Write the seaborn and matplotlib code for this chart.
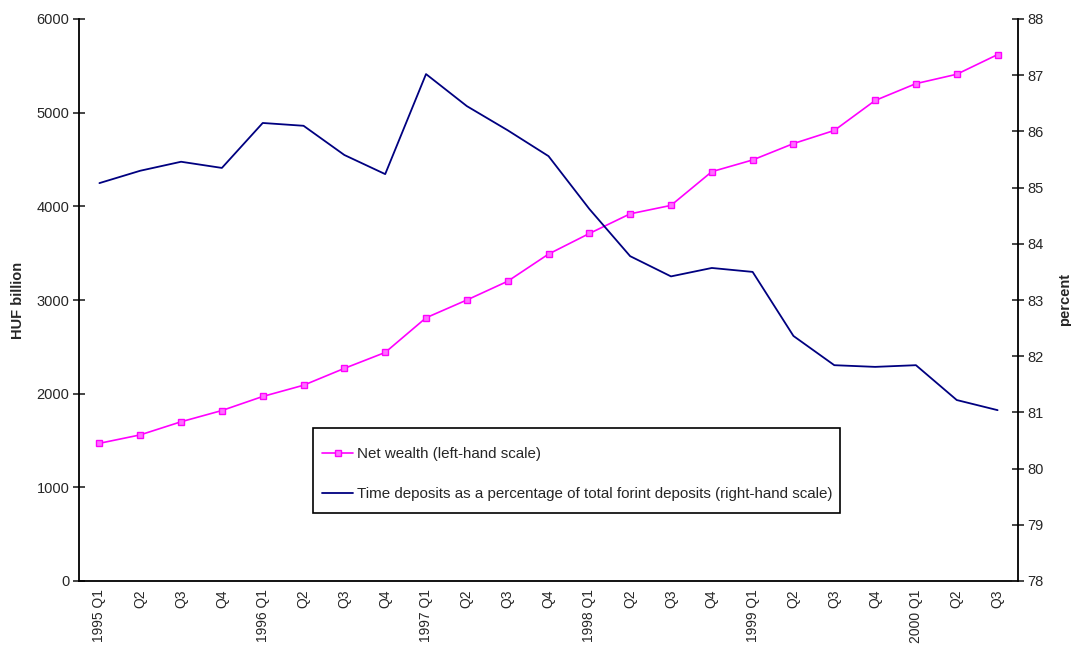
import matplotlib
matplotlib.use("Agg")
import matplotlib.pyplot as plt
from matplotlib.patches import Rectangle
from matplotlib.ticker import FixedLocator, NullFormatter
import numpy as np
import pandas as pd
import seaborn as sns

# Quarterly labels, 1995 Q1 - 2000 Q3
quarters = ["1995 Q1", "Q2", "Q3", "Q4",
            "1996 Q1", "Q2", "Q3", "Q4",
            "1997 Q1", "Q2", "Q3", "Q4",
            "1998 Q1", "Q2", "Q3", "Q4",
            "1999 Q1", "Q2", "Q3", "Q4",
            "2000 Q1", "Q2", "Q3"]

# Net wealth of households, HUF billion (left-hand scale)
net_wealth = [1470, 1560, 1700, 1820, 1970, 2090, 2270, 2440,
              2810, 3000, 3200, 3490, 3710, 3920, 4010, 4370,
              4495, 4670, 4810, 5130, 5310, 5410, 5620]

# Time deposits as % of total forint deposits (right-hand scale)
time_deposit_share = [85.08, 85.30, 85.46, 85.35, 86.15, 86.10, 85.58, 85.24,
                      87.02, 86.45, 86.02, 85.56, 84.62, 83.78, 83.42, 83.57,
                      83.50, 82.36, 81.84, 81.81, 81.84, 81.22, 81.04]

label_wealth = "Net wealth (left-hand scale)"
label_share = "Time deposits as a percentage of total forint deposits (right-hand scale)"

df = pd.DataFrame({
    "pos": np.arange(len(quarters)),
    "wealth": net_wealth,
    "share": time_deposit_share,
})

sns.set_style("white")
plt.rcParams["font.family"] = ["Liberation Sans", "DejaVu Sans"]
plt.rcParams["font.size"] = 10.5

W, H = 1071, 647
fig = plt.figure(figsize=(W / 100, H / 100), dpi=100)
ax = fig.add_axes([79 / W, 1 - 581 / H, (1018 - 79) / W, (581 - 19) / H])
ax2 = ax.twinx()

sns.lineplot(data=df, x="pos", y="wealth", ax=ax, color="#ff00ff", linewidth=1.2,
             marker="s", markersize=5, markerfacecolor="#ff70ff",
             markeredgecolor="#ff00ff", markeredgewidth=1.0, label=label_wealth,
             legend=False)
sns.lineplot(data=df, x="pos", y="share", ax=ax2, color="#000080", linewidth=1.3,
             label=label_share, legend=False)

# Left axis
ax.set_ylim(0, 6000)
ax.set_yticks(np.arange(0, 6001, 1000))
ax.set_ylabel("HUF billion", fontweight="bold", labelpad=8)

# Right axis
ax2.set_ylim(78, 88)
ax2.set_yticks(np.arange(78, 89, 1))
ax2.set_ylabel("percent", fontweight="bold", labelpad=10)

# Category axis: tick marks between quarters, labels at quarter centres
n = len(quarters)
ax.set_xlim(-0.5, n - 0.5)
ax.xaxis.set_major_locator(FixedLocator(np.arange(-0.5, n, 1.0)))
ax.xaxis.set_major_formatter(NullFormatter())
ax.xaxis.set_minor_locator(FixedLocator(np.arange(n)))
ax.set_xticklabels(quarters, minor=True, rotation=90, va="top", ha="center",
                   fontsize=10)
ax.tick_params(axis="x", which="minor", length=0, pad=6)
ax.tick_params(axis="x", which="major", direction="inout", length=8, width=1.2)
ax.set_xlabel("")

ax.tick_params(axis="y", direction="inout", length=8, width=1.2, pad=3)
ax2.tick_params(axis="y", direction="inout", length=8, width=1.2, pad=3)

for a in (ax, ax2):
    for side in ("left", "right", "bottom"):
        a.spines[side].set_color("black")
        a.spines[side].set_linewidth(1.3)
    a.spines["top"].set_visible(False)
    a.grid(False)
ax.spines["right"].set_visible(False)
ax2.spines["left"].set_visible(False)
ax2.spines["bottom"].set_visible(False)

# Legend box (drawn separately to get generous inner spacing)
box = Rectangle((313 / W, 1 - 513 / H), (840 - 313) / W, (513 - 428) / H,
                transform=fig.transFigure, facecolor="white", edgecolor="black",
                linewidth=1.2, zorder=4)
fig.add_artist(box)

h1, l1 = ax.get_legend_handles_labels()
h2, l2 = ax2.get_legend_handles_labels()
leg = fig.legend(h1 + h2, l1 + l2, loc="upper left",
                 bbox_to_anchor=(322 / W, 1 - 447 / H), borderaxespad=0,
                 frameon=False, handlelength=2.05, handletextpad=0.27,
                 labelspacing=1.75, borderpad=0, fontsize=10.9)
leg.set_zorder(5)

fig.savefig("out.png", dpi=100)
